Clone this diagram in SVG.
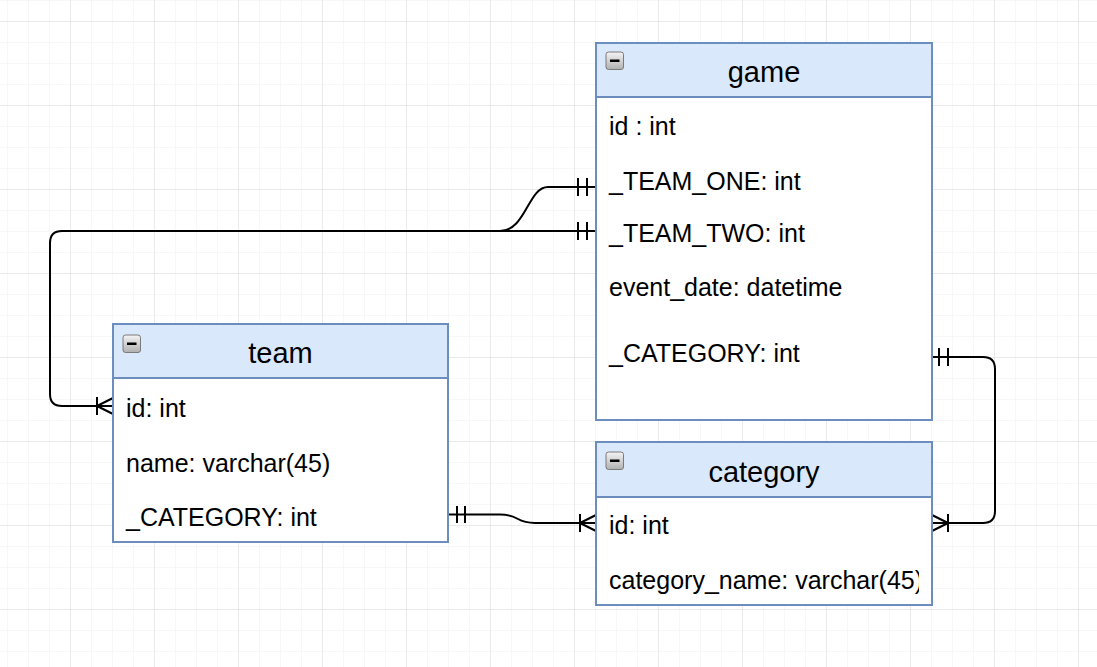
<svg xmlns="http://www.w3.org/2000/svg" width="1097" height="667" viewBox="0 0 1097 667">
<style>
.hdr{fill:#dae8fc;stroke:#6c8ebf;stroke-width:2}
.body{fill:#ffffff;stroke:#6c8ebf;stroke-width:2}
.title{font-family:"Liberation Sans",Arial,sans-serif;font-size:29px;fill:#000;text-anchor:middle}
.row{font-family:"Liberation Sans",Arial,sans-serif;font-size:25px;fill:#000}
.conn{fill:none;stroke:#000;stroke-width:2}
.mk{fill:none;stroke:#000;stroke-width:2}
</style>
<defs>
<pattern id="minor" width="21" height="21" patternUnits="userSpaceOnUse" patternTransform="translate(7,0)">
<path d="M0,0 V21 M0,0 H21" fill="none" stroke="#f0f0f0" stroke-width="1"/>
</pattern>
<pattern id="major" width="84" height="84" patternUnits="userSpaceOnUse" patternTransform="translate(70,21)">
<path d="M0,0 V84 M0,0 H84" fill="none" stroke="#dedede" stroke-width="1"/>
</pattern>
<linearGradient id="ig" x1="0" y1="0" x2="0" y2="1">
<stop offset="0" stop-color="#f4f4f4"/>
<stop offset="1" stop-color="#b0b0b0"/>
</linearGradient>
<g id="icon">
<rect x="0" y="0" width="17.5" height="17.5" rx="2.5" fill="url(#ig)" stroke="#7a7a7a" stroke-width="1"/>
<rect x="4" y="7.5" width="9.5" height="2.5" fill="#000"/>
</g>
<clipPath id="clipCat"><rect x="597" y="497" width="322" height="107"/></clipPath>
</defs>
<rect width="1097" height="667" fill="#ffffff"/>
<rect width="1097" height="667" fill="url(#minor)"/>
<rect width="1097" height="667" fill="url(#major)"/>

<g id="connectors">
<path class="conn" d="M596,187 H548 C528,187 526,231 500,231 H62 Q50,231 50,243 V394 Q50,406 62,406 H113"/>
<path class="conn" d="M596,231 H500"/>
<path class="conn" d="M449,514.5 H500 C520,514.5 515,523 535,523 H596"/>
<path class="conn" d="M932,357 H983 Q995,357 995,369 V511 Q995,523 983,523 H932"/>
<path class="mk" d="M578,178 V196 M587,178 V196"/>
<path class="mk" d="M578,222 V240 M587,222 V240"/>
<path class="mk" d="M97,397 V415 M97,406 L113,398 M97,406 L113,414"/>
<path class="mk" d="M457,506 V523 M465,506 V523"/>
<path class="mk" d="M580,514 V532 M580,523 L596,515 M580,523 L596,531"/>
<path class="mk" d="M939,348 V366 M948,348 V366"/>
<path class="mk" d="M948,514 V532 M948,523 L932,515 M948,523 L932,531"/>
</g>

<g id="game">
<rect class="body" x="596" y="43" width="336" height="377"/>
<rect class="hdr" x="596" y="43" width="336" height="54"/>
<use href="#icon" x="606" y="52"/>
<text class="title" x="764" y="82">game</text>
<text class="row" x="609" y="135">id : int</text>
<text class="row" x="609" y="190">_TEAM_ONE: int</text>
<text class="row" x="609" y="241.5">_TEAM_TWO: int</text>
<text class="row" x="609" y="296">event_date: datetime</text>
<text class="row" x="609" y="361.5">_CATEGORY: int</text>
</g>

<g id="team">
<rect class="body" x="113" y="324" width="335" height="218"/>
<rect class="hdr" x="113" y="324" width="335" height="54"/>
<use href="#icon" x="123" y="335"/>
<text class="title" x="280.5" y="363">team</text>
<text class="row" x="126" y="417">id: int</text>
<text class="row" x="126" y="471.5">name: varchar(45)</text>
<text class="row" x="126" y="526">_CATEGORY: int</text>
</g>

<g id="category">
<rect class="body" x="596" y="442" width="336" height="163"/>
<rect class="hdr" x="596" y="442" width="336" height="55"/>
<use href="#icon" x="606" y="452"/>
<text class="title" x="764" y="481.5">category</text>
<g clip-path="url(#clipCat)">
<text class="row" x="609" y="533.5">id: int</text>
<text class="row" x="609" y="588.5">category_name: varchar(45)</text>
</g>
</g>
</svg>
